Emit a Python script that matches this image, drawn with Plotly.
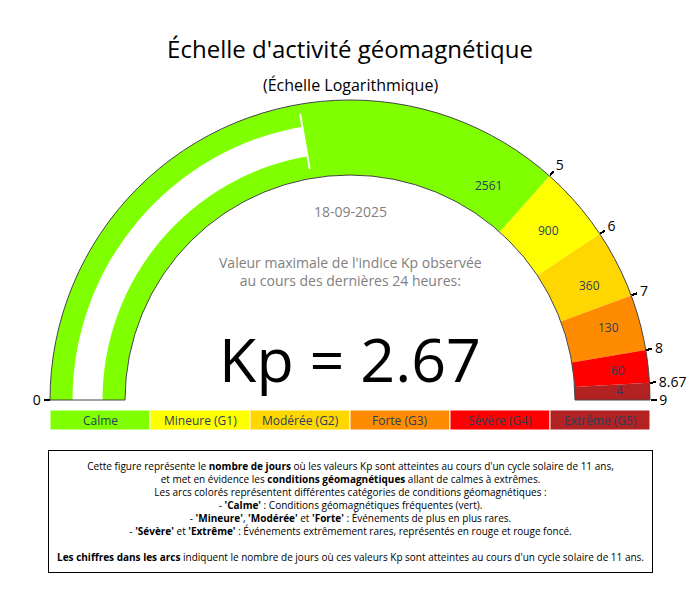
import numpy as np
import plotly.graph_objects as go

# Kp reading of the last 24 h
kp_value = 2.67
date_txt = "18-09-2025"

# gauge steps (Kp limits) and where they sit on the gauge axis (0..6)
kp_ticks = ["0", "5", "6", "7", "8", "8.67", "9"]
gauge_pos = [0, 4.39, 4.88, 5.32, 5.68, 5.89, 6.0]
step_colors = ["#7FFF00", "#FFFF00", "#FFD700", "#FF8C00", "#FF0000", "#B22222"]

# number of days in an 11 year solar cycle, and where each count is written (fraction of the arc)
day_counts = ["2561", "900", "360", "130", "60", "4"]
label_frac = [0.672, 0.763, 0.848, 0.906, 0.962, 0.988]

categories = ["Calme", "Mineure (G1)", "Modérée (G2)", "Forte (G3)", "Sévère (G4)", "Extrême (G5)"]

steps = []
for i, c in enumerate(step_colors):
    steps.append(dict(range=[gauge_pos[i], gauge_pos[i + 1]], color=c))

fig = go.Figure(go.Indicator(
    mode="gauge+number",
    value=kp_value,
    number=dict(prefix="Kp = ", font=dict(size=61, color="black")),
    domain=dict(x=[0, 1], y=[0, 1]),
    gauge=dict(
        shape="angular",
        axis=dict(range=[0, 6], tickmode="array", tickvals=gauge_pos, ticktext=kp_ticks,
                  ticks="outside", ticklen=6, tickwidth=2, tickcolor="black",
                  tickfont=dict(size=14, color="black")),
        bar=dict(color="white", thickness=0.4),
        bgcolor="white",
        borderwidth=1,
        bordercolor="#444",
        steps=steps,
        threshold=dict(line=dict(color="white", width=2), thickness=0.75, value=kp_value),
    ),
))

# geometry of the plot area (px) used to place text on the arcs
W, H = 700, 600
ml, mr, mt, mb = 42, 58, 92, 208
pw, ph = W - ml - mr, H - mt - mb
rx_lab, ry_lab = 270, 250

annotations = []
for txt, f in zip(day_counts, label_frac):
    th = np.pi * (1 - f)
    annotations.append(dict(
        x=0.5 + rx_lab * np.cos(th) / pw, y=ry_lab * np.sin(th) / ph,
        xref="paper", yref="paper", text=txt, showarrow=False,
        font=dict(size=12), xanchor="center", yanchor="middle"))

annotations.append(dict(x=0.5, y=1.05, xref="paper", yref="paper", showarrow=False,
                        xanchor="center", yanchor="middle",
                        text="(Échelle Logarithmique)", font=dict(size=16, color="black")))
annotations.append(dict(x=0.5, y=0.63, xref="paper", yref="paper", showarrow=False,
                        xanchor="center", yanchor="middle",
                        text=date_txt, font=dict(size=14, color="gray")))
annotations.append(dict(x=0.5, y=0.43, xref="paper", yref="paper", showarrow=False,
                        xanchor="center", yanchor="middle",
                        text="Valeur maximale de l'indice Kp observée<br>au cours des dernières 24 heures:",
                        font=dict(size=14, color="gray")))

# colour legend under the gauge
shapes = []
n = len(categories)
for i, (cat, c) in enumerate(zip(categories, step_colors)):
    shapes.append(dict(type="rect", xref="paper", yref="paper",
                       x0=i / n, x1=(i + 1) / n, y0=-0.1, y1=-0.0333,
                       fillcolor=c, line=dict(color="white", width=1)))
    annotations.append(dict(x=(i + 0.5) / n, y=-0.0667, xref="paper", yref="paper",
                            xanchor="center", yanchor="middle",
                            text=cat, showarrow=False, font=dict(size=12)))

note = ("Cette figure représente le <b>nombre de jours</b> où les valeurs Kp sont atteintes au cours d'un cycle solaire de 11 ans,<br>"
        "et met en évidence les <b>conditions géomagnétiques</b> allant de calmes à extrêmes.<br>"
        "Les arcs colorés représentent différentes catégories de conditions géomagnétiques :<br>"
        "- <b>'Calme'</b> : Conditions géomagnétiques fréquentes (vert).<br>"
        "- <b>'Mineure'</b>, <b>'Modérée'</b> et <b>'Forte'</b> : Événements de plus en plus rares.<br>"
        "- <b>'Sévère'</b> et <b>'Extrême'</b> : Événements extrêmement rares, représentés en rouge et rouge foncé.<br>"
        "<br>"
        "<b>Les chiffres dans les arcs</b> indiquent le nombre de jours où ces valeurs Kp sont atteintes au cours d'un cycle solaire de 11 ans.")
annotations.append(dict(x=0.5, y=-0.167, xref="paper", yref="paper", xanchor="center", yanchor="top",
                        text=note, showarrow=False, align="center",
                        font=dict(size=10, color="black"),
                        bordercolor="black", borderwidth=1, borderpad=8, bgcolor="white"))

fig.update_layout(
    width=W, height=H,
    margin=dict(l=ml, r=mr, t=mt, b=mb),
    title=dict(text="Échelle d'activité géomagnétique", xref="paper", x=0.5, xanchor="center",
               y=1 - 42 / H, yanchor="middle", font=dict(size=24, color="black")),
    annotations=annotations,
    shapes=shapes,
    paper_bgcolor="white",
)

fig.write_html("out.html")
